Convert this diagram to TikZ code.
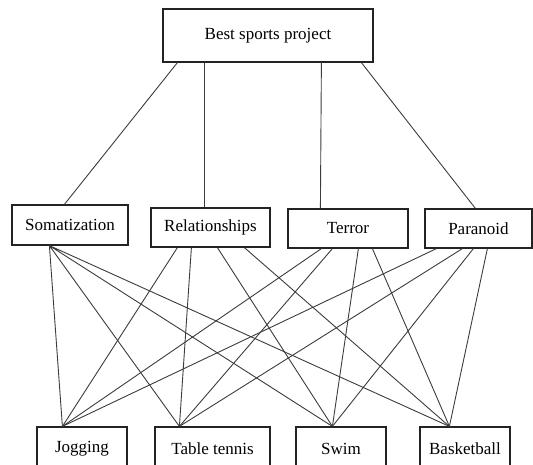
\documentclass[tikz,border=0pt]{standalone}
\usepackage{fontspec}
\setmainfont{Liberation Serif}
\usetikzlibrary{positioning}
\definecolor{boxline}{RGB}{35,35,35}
\definecolor{linkline}{RGB}{60,60,60}

\tikzset{
    block/.style={draw=boxline, line width=1.2pt, fill=white, inner sep=0pt,
        font=\fontsize{17}{20}\selectfont},
    link/.style={draw=linkline, line width=0.9pt}
}

\begin{document}
\begin{tikzpicture}[x=1pt, y=-1pt]
    \useasboundingbox (0,0) rectangle (533,464);
    \clip (0,0) rectangle (533,464);

    % Blocks
    \node[block, minimum width=210pt, minimum height=53pt] (goal) at (268,35.5) {Best sports project};

    \node[block, minimum width=116pt, minimum height=40pt] (soma) at (70,225) {Somatization};
    \node[block, minimum width=119pt, minimum height=39pt] (rel) at (210.5,227.5) {Relationships};
    \node[block, minimum width=120pt, minimum height=39pt] (terror) at (348,228.5) {Terror};
    \node[block, minimum width=107pt, minimum height=39pt] (para) at (478.5,228.5) {Paranoid};

    \node[block, minimum width=90pt, minimum height=44pt] (jog) at (82,449) {Jogging};
    \node[block, minimum width=115pt, minimum height=44pt] (tennis) at (212.5,449) {Table tennis};
    \node[block, minimum width=90pt, minimum height=44pt] (swim) at (341,449) {Swim};
    \node[block, minimum width=90pt, minimum height=44pt] (ball) at (465,449) {Basketball};

    % Connections, goal to criteria
    \draw[link] ([xshift=15pt]goal.south west) -- ([xshift=53pt]soma.north west);
    \draw[link] ([xshift=42pt]goal.south west) -- ([xshift=54pt]rel.north west);
    \draw[link] ([xshift=159pt]goal.south west) -- ([xshift=33pt]terror.north west);
    \draw[link] ([xshift=199pt]goal.south west) -- ([xshift=51pt]para.north west);

    % Connections, criteria to sports
    \draw[link] ([xshift=38pt]soma.south west) -- ([xshift=26pt]jog.north west)
                ([xshift=38pt]soma.south west) -- ([xshift=25pt]tennis.north west)
                ([xshift=38pt]soma.south west) -- ([xshift=37pt]swim.north west)
                ([xshift=38pt]soma.south west) -- ([xshift=30pt]ball.north west);
    \draw[link] ([xshift=27pt]rel.south west) -- ([xshift=26pt]jog.north west)
                ([xshift=41pt]rel.south west) -- ([xshift=25pt]tennis.north west)
                ([xshift=67pt]rel.south west) -- ([xshift=37pt]swim.north west)
                ([xshift=94pt]rel.south west) -- ([xshift=30pt]ball.north west);
    \draw[link] ([xshift=34pt]terror.south west) -- ([xshift=26pt]jog.north west)
                ([xshift=45pt]terror.south west) -- ([xshift=25pt]tennis.north west)
                ([xshift=71pt]terror.south west) -- ([xshift=37pt]swim.north west)
                ([xshift=85pt]terror.south west) -- ([xshift=30pt]ball.north west);
    \draw[link] ([xshift=12pt]para.south west) -- ([xshift=26pt]jog.north west)
                ([xshift=38pt]para.south west) -- ([xshift=25pt]tennis.north west)
                ([xshift=49pt]para.south west) -- ([xshift=37pt]swim.north west)
                ([xshift=63pt]para.south west) -- ([xshift=30pt]ball.north west);
\end{tikzpicture}
\end{document}
